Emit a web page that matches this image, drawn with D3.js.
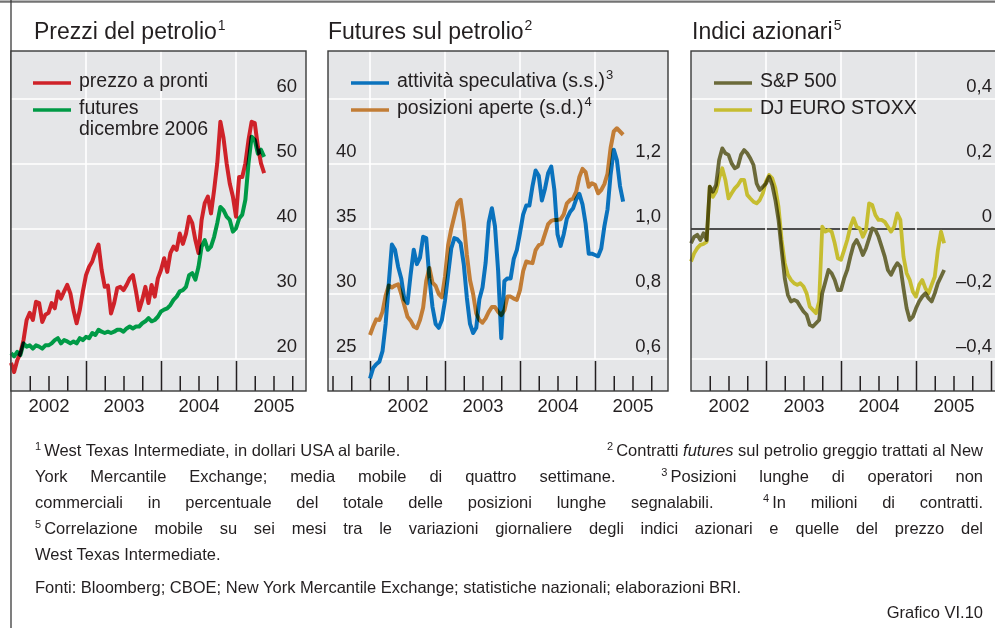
<!DOCTYPE html>
<html>
<head>
<meta charset="utf-8">
<script src="https://cdn.jsdelivr.net/npm/d3@7"></script>
<style>
body{margin:0;background:#fff;position:relative;width:995px;height:628px;overflow:hidden;}
svg{position:absolute;left:0;top:0;}
svg text{font-family:"Liberation Sans",Arial,sans-serif;fill:#231f20;}
.notes{position:absolute;left:35px;top:438px;width:948px;font-family:"Liberation Sans",Arial,sans-serif;font-size:16.5px;line-height:24px;color:#231f20;}
.notes .j{text-align:justify;text-align-last:justify;white-space:nowrap;}
.notes .sb{display:flex;justify-content:space-between;white-space:nowrap;}
.notes .sup{font-size:11px;position:relative;top:-6px;margin-right:3px;}
</style>
</head>
<body>
<script>
// half-monthly readings, first value = start of Jan 2002
var spot = [19.4,18.0,19.8,20.9,22.9,26.0,27.1,26.0,28.8,28.6,25.7,26.8,27.1,28.6,27.8,30.4,29.3,30.4,31.4,30.1,27.5,25.5,27.5,30.4,
  32.9,34.2,35.0,36.5,37.6,33.7,31.1,31.3,27.0,28.6,30.9,31.1,30.6,31.4,32.4,32.9,30.4,27.5,29.1,31.1,28.6,31.4,29.6,32.4,
  33.7,35.5,33.4,36.3,37.3,36.8,39.3,37.7,39.3,41.9,40.9,38.3,36.3,41.4,44.0,45.0,42.4,46.0,50.1,56.5,54.0,50.1,47.0,45.0,
  41.9,48.0,48.0,50.1,53.7,56.5,56.3,52.7,50.1,48.6];
var futDec06 = [20.9,20.4,21.1,20.6,22.4,21.9,22.1,21.6,22.1,21.9,21.6,22.1,22.1,22.4,22.9,23.2,22.4,22.9,22.7,22.4,22.7,22.4,23.2,22.9,
  23.4,23.2,24.0,23.7,24.5,24.2,24.0,24.2,24.0,24.2,24.5,24.5,24.2,24.7,25.0,24.7,25.0,25.0,25.5,25.8,26.3,25.8,26.0,26.5,
  27.3,27.6,27.8,28.3,29.1,29.6,30.4,30.6,31.1,32.9,33.2,32.2,34.2,37.3,38.3,36.8,37.3,38.8,40.9,43.4,42.9,41.9,41.4,39.6,
  40.1,41.6,42.2,44.5,50.1,54.2,53.7,51.6,52.2,51.1];
var specActivity = [23.5,24.3,24.6,24.8,25.6,27.7,30.8,33.8,33.4,32.1,31.2,29.6,29.3,31.5,33.4,32.3,32.8,34.4,34.3,31.2,29.0,27.7,27.4,28.0,
  29.5,31.5,33.5,34.3,34.2,33.9,32.3,29.7,27.7,27.0,27.4,29.6,30.5,32.4,35.5,36.6,35.2,31.8,26.6,31.0,31.2,31.2,32.7,33.4,
  34.7,36.1,36.8,36.8,38.3,39.5,39.1,37.2,38.1,39.3,39.8,38.0,34.6,33.7,34.6,35.8,36.3,36.6,37.3,37.7,36.9,35.4,33.1,33.1,
  33.0,32.9,33.5,35.2,36.5,39.2,41.1,40.3,38.3,37.1];
var openInterest = [0.674,0.70,0.722,0.72,0.745,0.795,0.826,0.82,0.826,0.83,0.80,0.765,0.73,0.718,0.70,0.695,0.72,0.758,0.84,0.88,0.835,0.825,0.80,0.79,
  0.853,0.95,1.0,1.04,1.08,1.09,1.02,0.92,0.843,0.80,0.74,0.72,0.712,0.725,0.745,0.76,0.76,0.745,0.735,0.75,0.792,0.792,0.786,0.782,
  0.812,0.87,0.90,0.897,0.895,0.935,0.95,0.955,0.985,1.015,1.025,1.028,1.028,1.03,1.045,1.079,1.089,1.094,1.115,1.16,1.185,1.175,1.13,1.141,
  1.136,1.11,1.12,1.138,1.17,1.25,1.30,1.31,1.30,1.29];
var sp500 = [-0.044,-0.024,-0.018,-0.034,-0.013,-0.034,0.130,0.115,0.135,0.212,0.248,0.233,0.228,0.202,0.187,0.192,0.228,0.243,0.233,0.217,0.197,0.140,0.120,0.130,
  0.140,0.161,0.135,0.089,0.028,-0.065,-0.152,-0.203,-0.223,-0.218,-0.223,-0.239,-0.254,-0.264,-0.295,-0.300,-0.290,-0.280,-0.198,-0.162,-0.126,-0.136,-0.157,-0.188,
  -0.188,-0.152,-0.126,-0.085,-0.049,-0.034,-0.054,-0.080,-0.059,-0.029,0.002,-0.003,-0.024,-0.054,-0.085,-0.126,-0.141,-0.121,-0.105,-0.116,-0.182,-0.244,-0.280,-0.270,
  -0.244,-0.223,-0.208,-0.198,-0.213,-0.223,-0.198,-0.167,-0.147,-0.126];
var euroStoxx = [-0.100,-0.075,-0.059,-0.049,-0.046,-0.040,0.130,0.099,0.115,0.156,0.187,0.151,0.094,0.110,0.125,0.135,0.151,0.151,0.105,0.094,0.084,0.079,0.089,0.110,
  0.146,0.166,0.156,0.125,0.069,-0.034,-0.105,-0.141,-0.157,-0.167,-0.172,-0.167,-0.177,-0.198,-0.239,-0.249,-0.259,-0.223,0.007,-0.008,-0.003,-0.008,-0.044,-0.090,
  -0.095,-0.065,-0.034,0.007,0.033,0.007,0.002,-0.024,-0.003,0.079,0.074,0.043,0.028,0.028,0.022,0.007,-0.008,0.007,0.048,0.028,-0.085,-0.136,-0.157,-0.193,
  -0.208,-0.172,-0.157,-0.182,-0.198,-0.172,-0.147,-0.065,-0.008,-0.044];

var years = [2002, 2003, 2004, 2005];
var priceTicks = [20, 30, 40, 50, 60];
var specTicks = [25, 30, 35, 40];
var openTicks = [0.6, 0.8, 1.0, 1.2];
var corrTicks = [-0.4, -0.2, 0, 0.2, 0.4];

var bg = "#e5e6e8", ink = "#231f20";
var top0 = 51, bot0 = 391, gridTop = 99, gridBot = 359;

var it = d3.formatLocale({decimal: ",", thousands: ".", grouping: [3], currency: ["", ""], minus: "\u2013"});
var fmt1 = it.format(".1f");
function commaFmt(d){ return d === 0 ? "0" : fmt1(d); }

// decimal year for half-month index
function when(i){ return 2002 + i / 24; }

var svg = d3.select("body").append("svg").attr("width", 995).attr("height", 628);

// page frame
svg.append("line").attr("x1", 0).attr("x2", 995).attr("y1", 1.6).attr("y2", 1.6)
  .attr("stroke", "#737373").attr("stroke-width", 2.4);
svg.append("line").attr("x1", 11).attr("x2", 11).attr("y1", 0).attr("y2", 628)
  .attr("stroke", "#3a3a3a").attr("stroke-width", 1.3);

function drawPanel(p){
  var x0 = p.x.range()[0], x1 = p.x.range()[1];
  var g = svg.append("g");

  g.append("rect").attr("x", x0).attr("y", top0).attr("width", x1 - x0).attr("height", bot0 - top0).attr("fill", bg);

  // horizontal grid
  g.selectAll(".hg").data(p.grid).enter().append("line")
    .attr("x1", x0).attr("x2", x1)
    .attr("y1", function(d){ return p.y(d); }).attr("y2", function(d){ return p.y(d); })
    .attr("stroke", function(d){ return (p.zero && d === 0) ? "#1a1a1a" : "#fff"; })
    .attr("stroke-width", function(d){ return (p.zero && d === 0) ? 1.3 : 1.6; });

  // vertical grid at year starts
  g.selectAll(".vg").data(p.vgrid).enter().append("line")
    .attr("x1", function(d){ return p.x(d); }).attr("x2", function(d){ return p.x(d); })
    .attr("y1", top0).attr("y2", gridBot)
    .attr("stroke", "#fff").attr("stroke-width", 1.6);

  // quarter and year ticks rising from the bottom
  var dom = p.x.domain();
  var quarters = d3.range(Math.ceil(dom[0] * 4), Math.floor(dom[1] * 4) + 1).map(function(q){ return q / 4; })
    .filter(function(q){ return q > dom[0] + 0.01 && q < dom[1] - 0.01; });
  var yrs = quarters.filter(function(q){ return q % 1 === 0; });
  var qtr = quarters.filter(function(q){ return q % 1 !== 0; });
  [[yrs, 30], [qtr, 15]].forEach(function(s){
    var ax = g.append("g").attr("transform", "translate(0," + bot0 + ")")
      .call(d3.axisBottom(p.x).tickValues(s[0]).tickSize(-s[1]).tickFormat(""));
    ax.select(".domain").remove();
    ax.selectAll("line").attr("stroke", ink).attr("stroke-width", 1.5);
  });

  // series, multiplied where they cross
  var lg = g.append("g").style("isolation", "isolate");
  p.series.forEach(function(s){
    var line = d3.line().x(function(d, i){ return p.x(when(i)); }).y(function(d){ return s.y(d); });
    lg.append("path").datum(s.values).attr("d", line)
      .attr("fill", "none").attr("stroke", s.color).attr("stroke-width", s.width)
      .attr("stroke-linejoin", "round").style("mix-blend-mode", "multiply");
  });

  // frame
  g.append("rect").attr("x", x0).attr("y", top0).attr("width", x1 - x0).attr("height", bot0 - top0)
    .attr("fill", "none").attr("stroke", "#3a3a3a").attr("stroke-width", 1.4);

  // value labels (sit just above their grid line)
  p.labels.forEach(function(l){
    g.selectAll(null).data(l.ticks).enter().append("text")
      .attr("x", l.x).attr("y", function(d){ return l.scale(d) - 7; })
      .attr("text-anchor", l.anchor).attr("font-size", "18.5px")
      .text(l.format);
  });

  // year labels
  var yl = g.append("g").attr("transform", "translate(0," + bot0 + ")")
    .call(d3.axisBottom(p.x).tickValues(years.map(function(y){ return y + 0.5; }))
      .tickSize(0).tickPadding(8).tickFormat(function(d){ return Math.floor(d); }));
  yl.select(".domain").remove();
  yl.selectAll("text").attr("font-size", "18.5px").attr("font-family", null).attr("fill", ink);

  // title
  var tt = svg.append("text").attr("x", p.titleX).attr("y", 39).attr("font-size", "23px").text(p.title);
  tt.append("tspan").attr("font-size", "14px").attr("dy", -9).attr("dx", 1).text(p.sup);

  // legend
  p.legend.forEach(function(l, i){
    var ly = 83 + i * 27;
    g.append("line").attr("x1", p.legX).attr("x2", p.legX + 38).attr("y1", ly).attr("y2", ly)
      .attr("stroke", l.color).attr("stroke-width", 3.4);
    var tx = g.append("text").attr("x", p.legX + 46).attr("y", ly + 3.5).attr("font-size", "19.5px");
    l.text.forEach(function(line, k){
      tx.append("tspan").attr("x", p.legX + 46).attr("dy", k === 0 ? 0 : 21.5).text(line);
    });
    if (l.sup) tx.append("tspan").attr("font-size", "13px").attr("dy", -8).attr("dx", 1).text(l.sup);
  });
}

var red = "#cf2229", green = "#009a46", blue = "#0a72bd", orange = "#c27d36", olive = "#6b6a3a", yellow = "#c6bd31";

// oil prices
var x1 = d3.scaleLinear().domain([2002, 2002 + 295 / 75]).range([11, 306]);
var y1 = d3.scaleLinear().domain([20, 60]).range([gridBot, gridTop]);
drawPanel({
  x: x1, y: y1, grid: priceTicks, vgrid: [2003, 2004, 2005],
  series: [{values: futDec06, y: y1, color: green, width: 4}, {values: spot, y: y1, color: red, width: 4}],
  labels: [{ticks: priceTicks, scale: y1, x: 297, anchor: "end", format: function(d){ return d; }}],
  title: "Prezzi del petrolio", sup: "1", titleX: 34,
  legX: 33,
  legend: [{color: red, text: ["prezzo a pronti"]}, {color: green, text: ["futures", "dicembre 2006"]}]
});

// oil futures
var x2 = d3.scaleLinear().domain([2002 - 42 / 75, 2002 + 298 / 75]).range([328, 668]);
var y2 = d3.scaleLinear().domain([25, 45]).range([gridBot, gridTop]);
var y2r = d3.scaleLinear().domain([0.6, 1.4]).range([gridBot, gridTop]);
drawPanel({
  x: x2, y: y2, grid: [25, 30, 35, 40, 45], vgrid: [2002, 2003, 2004, 2005],
  series: [{values: openInterest, y: y2r, color: orange, width: 4}, {values: specActivity, y: y2, color: blue, width: 4}],
  labels: [{ticks: specTicks, scale: y2, x: 336, anchor: "start", format: function(d){ return d; }},
           {ticks: openTicks, scale: y2r, x: 661, anchor: "end", format: commaFmt}],
  title: "Futures sul petrolio", sup: "2", titleX: 328,
  legX: 351,
  legend: [{color: blue, text: ["attivit\u00e0 speculativa (s.s.)"], sup: "3"},
           {color: orange, text: ["posizioni aperte (s.d.)"], sup: "4"}]
});

// equity correlations
var x3 = d3.scaleLinear().domain([2002, 2002 + 309 / 75]).range([691, 1000]);
var y3 = d3.scaleLinear().domain([-0.4, 0.4]).range([gridBot, gridTop]);
drawPanel({
  x: x3, y: y3, grid: corrTicks, vgrid: [2003, 2004, 2005], zero: true,
  series: [{values: euroStoxx, y: y3, color: yellow, width: 3.8}, {values: sp500, y: y3, color: olive, width: 3.8}],
  labels: [{ticks: corrTicks, scale: y3, x: 992, anchor: "end", format: commaFmt}],
  title: "Indici azionari", sup: "5", titleX: 692,
  legX: 714,
  legend: [{color: olive, text: ["S&P 500"]}, {color: yellow, text: ["DJ EURO STOXX"]}]
});

// footnotes
var notes = d3.select("body").append("div").attr("class", "notes");
var l1 = notes.append("div").attr("class", "sb");
l1.append("span").html('<span class="sup">1</span>West Texas Intermediate, in dollari USA al barile.');
l1.append("span").html('<span class="sup">2</span>Contratti <i>futures</i> sul petrolio greggio trattati al New');
notes.append("div").attr("class", "j")
  .html('York Mercantile Exchange; media mobile di quattro settimane. &nbsp;<span class="sup">3</span>Posizioni lunghe di operatori non');
notes.append("div").attr("class", "j")
  .html('commerciali in percentuale del totale delle posizioni lunghe segnalabili. &nbsp;<span class="sup">4</span>In milioni di contratti.');
notes.append("div").attr("class", "j")
  .html('<span class="sup">5</span>Correlazione mobile su sei mesi tra le variazioni giornaliere degli indici azionari e quelle del prezzo del');
notes.append("div").text("West Texas Intermediate.");
notes.append("div").style("margin-top", "9px")
  .text("Fonti: Bloomberg; CBOE; New York Mercantile Exchange; statistiche nazionali; elaborazioni BRI.");
notes.append("div").style("text-align", "right").style("margin-top", "1px").text("Grafico VI.10");
</script>
</body>
</html>
